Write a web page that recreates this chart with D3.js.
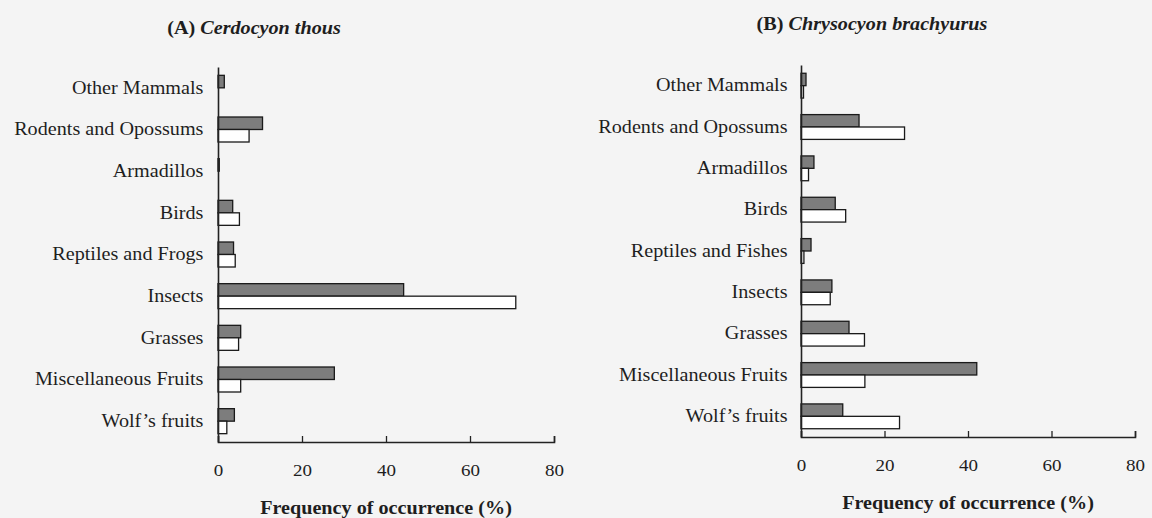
<!DOCTYPE html>
<html>
<head>
<meta charset="utf-8">
<script src="https://cdn.jsdelivr.net/npm/d3@7"></script>
<style>
  body { margin: 0; background: #f4f4f4; }
  svg { display: block; }
  text { font-family: "Liberation Serif", "Times New Roman", serif; fill: #1e1e1e; }
</style>
</head>
<body>
<div class="main"></div>
<script>
// categories, top to bottom
var categoriesA = ["Other Mammals", "Rodents and Opossums", "Armadillos", "Birds",
    "Reptiles and Frogs", "Insects", "Grasses", "Miscellaneous Fruits", "Wolf\u2019s fruits"];
var categoriesB = ["Other Mammals", "Rodents and Opossums", "Armadillos", "Birds",
    "Reptiles and Fishes", "Insects", "Grasses", "Miscellaneous Fruits", "Wolf\u2019s fruits"];

// frequency of occurrence (%), grey bar then white bar
var thousGrey  = [1.5, 10.6, 0.3, 3.5, 3.7, 44.2, 5.4, 27.7, 3.9];
var thousWhite = [0,   7.4,  0,   5.1, 4.1, 70.9, 4.9, 5.4,  2.1];
var brachyGrey  = [1.2, 13.9, 3.1, 8.2, 2.4, 7.4, 11.5, 42.1, 10.0];
var brachyWhite = [0.6, 24.8, 1.8, 10.7, 0.7, 7.0, 15.2, 15.3, 23.6];

var xTicks = [0, 20, 40, 60, 80];
var axisTitle = "Frequency of occurrence (%)";

var W = 1152, H = 518;
var stretch = 1.12;   // scan is a bit wider than tall

var svg = d3.select(".main").append("svg")
    .attr("width", W).attr("height", H);

function panel(opt) {
    var x = d3.scaleLinear().domain([0, 80]).range([opt.x0, opt.x1]);
    var y = d3.scaleBand().domain(opt.cats).range([opt.top, opt.bottom])
        .paddingInner(0.4).paddingOuter(0.2);
    var g = svg.append("g");
    var half = y.bandwidth() / 2;

    // title
    var t = g.append("text")
        .attr("transform", "translate(" + opt.titleX + "," + opt.titleY + ") scale(" + stretch + ",1)")
        .attr("text-anchor", "middle")
        .style("font-size", "18px").style("font-weight", "bold");
    t.append("tspan").text(opt.tag + " ");
    t.append("tspan").style("font-style", "italic").text(opt.species);

    // bars
    var rows = opt.cats.map(function(c, i) { return {c: c, a: opt.grey[i], b: opt.white[i]}; });
    g.selectAll(".grey").data(rows).enter().append("rect")
        .attr("x", x(0))
        .attr("y", function(d) { return y(d.c); })
        .attr("width", function(d) { return x(d.a) - x(0); })
        .attr("height", half)
        .attr("fill", "#7d7d7d").attr("stroke", "#1a1a1a").attr("stroke-width", 1.3);
    g.selectAll(".white").data(rows).enter().append("rect")
        .attr("x", x(0))
        .attr("y", function(d) { return y(d.c) + half; })
        .attr("width", function(d) { return x(d.b) - x(0); })
        .attr("height", half)
        .attr("fill", "#ffffff").attr("stroke", "#1a1a1a").attr("stroke-width", 1.3);

    // y axis with category names
    var ya = g.append("g").attr("transform", "translate(" + x(0) + ",0)")
        .call(d3.axisLeft(y).tickSize(0).tickSizeOuter(0).tickPadding(opt.labelGap));
    ya.select(".domain").attr("stroke", "#222").attr("stroke-width", 1.6);
    ya.selectAll("text")
        .style("font-size", "18px")
        .attr("transform", "scale(" + stretch + ",1)");

    // x axis, ticks pointing inward
    var xa = g.append("g").attr("transform", "translate(0," + opt.bottom + ")")
        .call(d3.axisBottom(x).tickValues(xTicks).tickSizeInner(-6).tickSizeOuter(-6).tickPadding(22));
    xa.select(".domain").attr("stroke", "#222").attr("stroke-width", 1.6);
    xa.selectAll(".tick line").attr("stroke", "#222").attr("stroke-width", 1.3);
    xa.selectAll("text")
        .style("font-size", "17px")
        .attr("transform", "scale(" + stretch + ",1)");

    g.append("text")
        .attr("transform", "translate(" + ((opt.x0 + opt.x1) / 2) + "," + (opt.bottom + 72) + ") scale(" + stretch + ",1)")
        .attr("text-anchor", "middle")
        .style("font-size", "18px").style("font-weight", "bold")
        .text(axisTitle);
}

panel({cats: categoriesA, grey: thousGrey, white: thousWhite,
    x0: 218, x1: 554, top: 67, bottom: 442, labelGap: 13,
    tag: "(A)", species: "Cerdocyon thous", titleX: 254, titleY: 34});

panel({cats: categoriesB, grey: brachyGrey, white: brachyWhite,
    x0: 801, x1: 1135, top: 65, bottom: 437, labelGap: 12,
    tag: "(B)", species: "Chrysocyon brachyurus", titleX: 872, titleY: 30});
</script>
</body>
</html>
